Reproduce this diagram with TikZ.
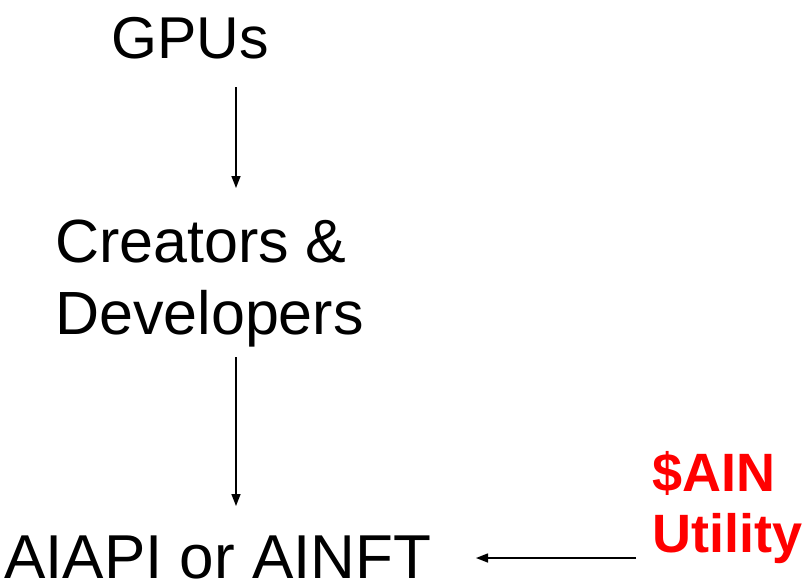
\documentclass[tikz,border=0pt]{standalone}
\usepackage{fontspec}
\setmainfont{Liberation Sans}
\usetikzlibrary{arrows.meta}
\begin{document}
\begin{tikzpicture}[x=1pt,y=-1pt,
  lbl/.style={inner sep=0pt, anchor=base west, font=\fontsize{61}{72}\selectfont},
  redlbl/.style={inner sep=0pt, anchor=base west, align=left, text=red, font=\fontsize{54}{60}\selectfont\bfseries},
  arr/.style={-{Triangle[length=12pt,width=9pt]}, line width=1.4pt, black}]
\useasboundingbox (0,0) rectangle (807,584);
\node[lbl, font=\fontsize{59}{70}\selectfont] (gpus) at (111,58) {GPUs};
\node[lbl] (creators) at (55,262) {Creators \&};
\node[lbl] (developers) at (55,334) {Developers};
\node[lbl, font=\fontsize{62}{72}\selectfont] (aiapi) at (4,578) {AIAPI or AINFT};
\node[redlbl] (ain) at (652,491) {\$AIN};
\node[redlbl] (utility) at (652,552) {Utility};
\coordinate (a1s) at (236,87);
\coordinate (a1e) at (236,188);
\coordinate (a2s) at (236,357);
\coordinate (a2e) at (236,506);
\coordinate (a3s) at (636,558);
\coordinate (a3e) at (476,558);
\draw[arr] (a1s) -- (a1e);
\draw[arr] (a2s) -- (a2e);
\draw[arr] (a3s) -- (a3e);
\end{tikzpicture}
\end{document}
